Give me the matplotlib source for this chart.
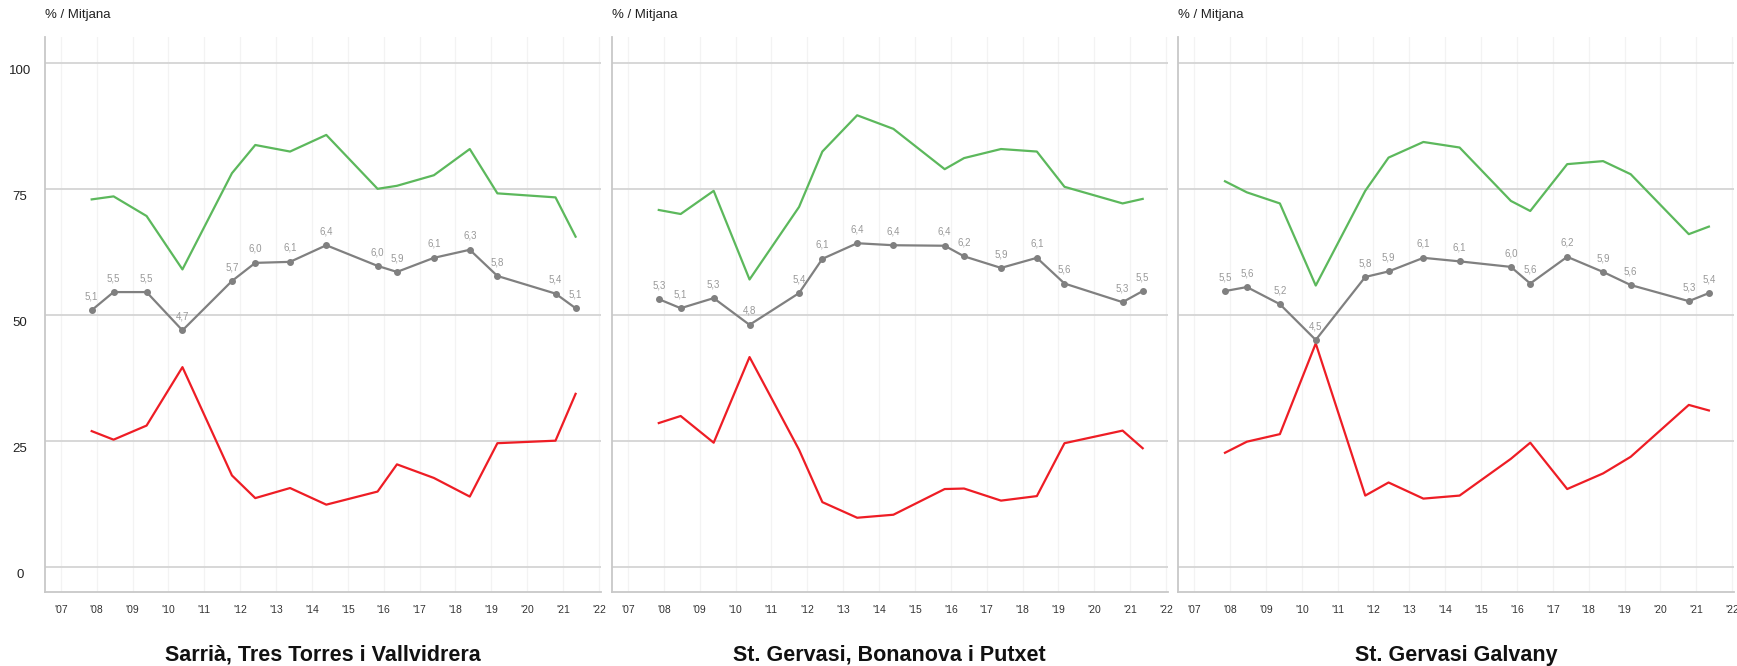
import matplotlib
matplotlib.use("Agg")
import matplotlib.pyplot as plt
from matplotlib.transforms import ScaledTranslation

plt.rcParams["font.family"] = ["Liberation Sans", "DejaVu Sans"]

# survey dates (fractional years), shared by the three districts
dates = [2007.86, 2008.47, 2009.39, 2010.39, 2011.77, 2012.42, 2013.39, 2014.40,
         2015.83, 2016.37, 2017.40, 2018.40, 2019.17, 2020.79, 2021.35]

titles = ["Sarrià, Tres Torres i Vallvidrera",
          "St. Gervasi, Bonanova i Putxet",
          "St. Gervasi Galvany"]

good_1 = [73.0, 73.6, 69.7, 59.1, 78.2, 83.8, 82.5, 85.8, 75.1, 75.7, 77.8, 83.0, 74.2, 73.4, 65.6]
bad_1 = [27.0, 25.3, 28.1, 39.7, 18.2, 13.7, 15.7, 12.4, 15.0, 20.4, 17.7, 14.0, 24.6, 25.1, 34.4]
mean_1 = [5.10, 5.46, 5.46, 4.70, 5.68, 6.04, 6.06, 6.39, 5.98, 5.86, 6.14, 6.30, 5.78, 5.43, 5.14]

good_2 = [70.9, 70.1, 74.7, 57.1, 71.5, 82.5, 89.7, 87.0, 79.0, 81.2, 83.0, 82.5, 75.5, 72.2, 73.1]
bad_2 = [28.6, 30.0, 24.7, 41.7, 23.3, 12.9, 9.8, 10.4, 15.5, 15.6, 13.2, 14.1, 24.6, 27.1, 23.6]
mean_2 = [5.32, 5.14, 5.34, 4.81, 5.44, 6.12, 6.43, 6.39, 6.38, 6.17, 5.94, 6.14, 5.63, 5.26, 5.48]

good_3 = [76.6, 74.4, 72.2, 55.9, 74.7, 81.3, 84.4, 83.3, 72.7, 70.7, 80.0, 80.6, 78.0, 66.1, 67.6]
bad_3 = [22.7, 24.9, 26.4, 44.4, 14.2, 16.8, 13.6, 14.2, 21.5, 24.7, 15.5, 18.6, 21.9, 32.2, 31.1]
mean_3 = [5.48, 5.56, 5.22, 4.51, 5.76, 5.87, 6.14, 6.07, 5.96, 5.63, 6.16, 5.86, 5.60, 5.28, 5.44]

years = list(range(2007, 2023))
yticks = [0, 25, 50, 75, 100]

GREEN = "#5cb85c"
RED = "#ee1d25"
GRAY = "#808080"
LABEL_GRAY = "#999999"

fig = plt.figure(figsize=(17.37, 6.66), dpi=100)
W, H = 1737, 666
lefts = [44.7, 611.8, 1178]
width = 556
top, bottom = 36.7, 592.3

panels = [(good_1, bad_1, mean_1), (good_2, bad_2, mean_2), (good_3, bad_3, mean_3)]

for i, (good, bad, mean) in enumerate(panels):
    ax = fig.add_axes([lefts[i] / W, 1 - bottom / H, width / W, (bottom - top) / H])
    ax.set_xlim(2006.55, 2022.05)
    ax.set_ylim(-5, 105.3)

    for y in yticks:
        ax.axhline(y, color="#d4d4d4", lw=1.3, zorder=1)
    for yr in years:
        ax.axvline(yr, color="#f3f3f3", lw=0.9, zorder=0)

    ax.plot(dates, good, color=GREEN, lw=1.6, zorder=3)
    ax.plot(dates, bad, color=RED, lw=1.6, zorder=3)
    scaled = [m * 10 for m in mean]
    ax.plot(dates, scaled, color=GRAY, lw=1.6, marker="o", ms=4, zorder=4)
    for x, m, y in zip(dates, mean, scaled):
        ax.annotate(f"{m:.1f}".replace(".", ","), (x, y), xytext=(0, 10),
                    textcoords="offset points", ha="center", va="center",
                    fontsize=7, color=LABEL_GRAY, zorder=5)

    for side in ["top", "right"]:
        ax.spines[side].set_visible(False)
    for side in ["left", "bottom"]:
        ax.spines[side].set_color("#c8c8c8")
        ax.spines[side].set_linewidth(1.3)

    ax.set_xticks(years)
    ax.set_xticklabels([f"'{y % 100:02d}" for y in years])
    ax.tick_params(axis="x", length=0, pad=9, labelsize=7.5, labelcolor="#333333")

    ax.set_yticks(yticks)
    if i == 0:
        ax.set_yticklabels([str(y) for y in yticks])
        ax.tick_params(axis="y", length=0, pad=10, labelsize=9.5, labelcolor="#222222")
        off = ScaledTranslation(-11 / 100, -6 / 100, fig.dpi_scale_trans)
        for lab in ax.get_yticklabels():
            lab.set_horizontalalignment("center")
            lab.set_transform(lab.get_transform() + off)
    else:
        ax.set_yticklabels([])
        ax.tick_params(axis="y", length=0)

    fig.text(lefts[i] / W, 1 - 15 / H, "% / Mitjana", ha="left", va="center",
             fontsize=9.5, color="#222222")
    fig.text((lefts[i] + width / 2) / W, 1 - 655 / H, titles[i], ha="center",
             va="center", fontsize=15.5, fontweight="bold", color="#111111")

fig.savefig("out.png", dpi=100)
